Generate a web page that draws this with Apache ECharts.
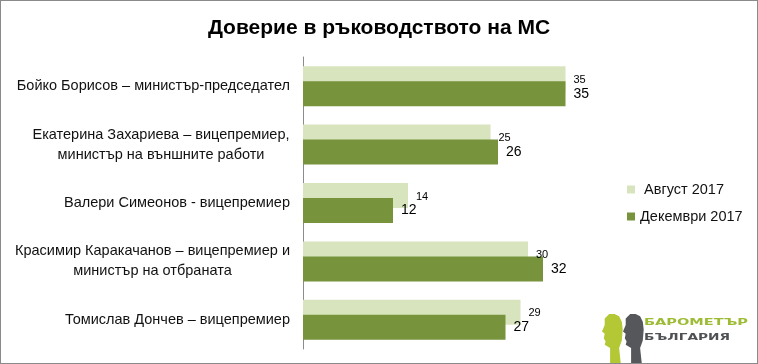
<!DOCTYPE html>
<html>
<head>
<meta charset="utf-8">
<script src="https://cdn.jsdelivr.net/npm/echarts@6/dist/echarts.min.js"></script>
<style>
html,body{margin:0;padding:0;background:#fff;}
#c{position:absolute;left:0;top:0;width:758px;height:364px;box-sizing:border-box;border:1px solid #8a8a8a;}
</style>
</head>
<body>
<div id="c"></div>
<script>
const categories = [
  "Бойко Борисов – министър-председател",
  "Екатерина Захариева – вицепремиер,\nминистър на външните работи",
  "Валери Симеонов - вицепремиер",
  "Красимир Каракачанов – вицепремиер и\nминистър на отбраната",
  "Томислав Дончев – вицепремиер"
];
const seriesNames = ["Август 2017", "Декември 2017"];
const augValues = [35, 25, 14, 30, 29];
const decValues = [35, 26, 12, 32, 27];
const titleText = "Доверие в ръководството на МС";
const logoLine1 = "БАРОМЕТЪР";
const logoLine2 = "БЪЛГАРИЯ";

const FONT = '"Liberation Sans", Arial, sans-serif';
const LFS = 14.5;
const mctx = document.createElement('canvas').getContext('2d');
mctx.font = LFS + 'px ' + FONT;
const rich = {};
const labelTexts = categories.map((c, i) => {
  const lines = c.split('\n');
  if (lines.length === 1) return c;
  const w = Math.ceil(Math.max(...lines.map(l => mctx.measureText(l).width)));
  rich['r' + i] = {width: w, align: 'center', fontSize: LFS, lineHeight: 20, color: '#111', fontFamily: FONT};
  return lines.map(l => '{r' + i + '|' + l + '}').join('\n');
});

const LOGO_FONT = '"DejaVu Sans", sans-serif';
mctx.font = 'bold 9px ' + LOGO_FONT;
const sx1 = 104 / mctx.measureText(logoLine1).width;
const sx2 = 86 / mctx.measureText(logoLine2).width;

const chart = echarts.init(document.getElementById('c'), null, {renderer: 'canvas'});

const headPts = [[4,2],[9,0],[15,0],[20,4],[20,10],[23,16],[20,18],[21,22],[19,25],[20,28],[14,31],[14,46],[2,46],[4,31],[1,24],[0,14],[1,7]];
function head(dx, dy) { return headPts.map(p => [dx + (23 - p[0]) * 0.9, dy + p[1] * 1.1]); }

chart.setOption({
  animation: false,
  title: {
    text: titleText,
    left: 'center',
    top: 12,
    textStyle: {fontFamily: FONT, fontSize: 21, fontWeight: 'bold', color: '#000'}
  },
  legend: {
    orient: 'vertical',
    left: 621,
    top: 176,
    itemWidth: 8,
    itemHeight: 8,
    itemGap: 12,
    icon: 'rect',
    data: seriesNames,
    formatter: function (n) { return n === seriesNames[0] ? ' ' + n : n; },
    textStyle: {fontFamily: FONT, fontSize: 14.5, color: '#111'}
  },
  grid: {left: 302, top: 56, height: 292, right: 154},
  xAxis: {
    type: 'value', min: 0, max: 40,
    show: false
  },
  yAxis: {
    type: 'category',
    data: categories,
    inverse: true,
    axisLine: {show: true, lineStyle: {color: '#8c8c8c', width: 1}},
    axisTick: {show: false},
    axisLabel: {
      margin: 13,
      fontFamily: FONT, fontSize: LFS, color: '#111', lineHeight: 20,
      formatter: function (v, idx) { return labelTexts[idx]; },
      rich: rich
    }
  },
  series: [
    {
      name: seriesNames[0], type: 'bar', data: augValues,
      barWidth: 25, barGap: '-40%',
      itemStyle: {color: '#D7E4BD'},
      label: {show: true, position: 'right', distance: 8, offset: [0, 1], fontFamily: FONT, fontSize: 11, color: '#000'},
      z: 2
    },
    {
      name: seriesNames[1], type: 'bar', data: decValues,
      barWidth: 25, barGap: '-40%',
      itemStyle: {color: '#77933C'},
      label: {show: true, position: 'right', distance: 8, fontFamily: FONT, fontSize: 14, color: '#000'},
      z: 2
    }
  ],
  graphic: [
    {type: 'polygon', shape: {points: head(601, 313)}, style: {fill: '#B3C834'}},
    {type: 'polygon', shape: {points: head(622, 313)}, style: {fill: '#55575A'}},
    {type: 'text', x: 643, y: 317, scaleX: sx1,
     style: {text: logoLine1, fontFamily: LOGO_FONT, fontSize: 9, fontWeight: 'bold', fill: '#9DBB35', verticalAlign: 'top'}},
    {type: 'text', x: 643, y: 332, scaleX: sx2,
     style: {text: logoLine2, fontFamily: LOGO_FONT, fontSize: 9, fontWeight: 'bold', fill: '#4F5154', verticalAlign: 'top'}}
  ]
});
</script>
</body>
</html>
